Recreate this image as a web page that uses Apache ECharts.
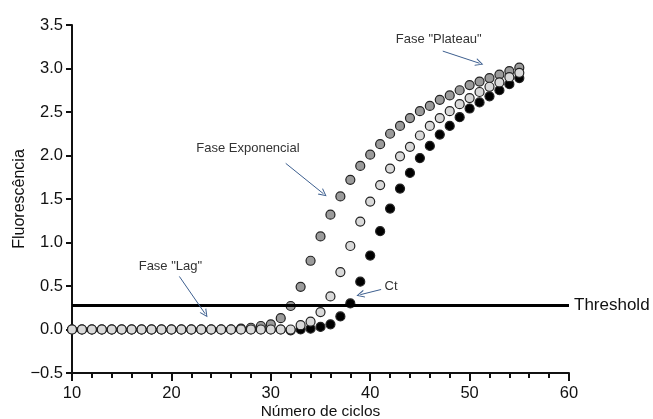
<!DOCTYPE html>
<html>
<head>
<meta charset="utf-8">
<script src="https://cdn.jsdelivr.net/npm/echarts@6/dist/echarts.min.js"></script>
<style>
  html, body { margin: 0; padding: 0; background: #fff; }
  #chart { width: 653px; height: 419px; }
</style>
</head>
<body>
<div id="chart"></div>
<script>
/* global echarts */
// ciclos de PCR
const cycles = [10, 11, 12, 13, 14, 15, 16, 17, 18, 19, 20, 21, 22, 23, 24, 25, 26, 27, 28, 29, 30, 31, 32,
    33, 34, 35, 36, 37, 38, 39, 40, 41, 42, 43, 44, 45, 46, 47, 48, 49, 50, 51, 52, 53, 54, 55];

// amostra mais concentrada (cinza escuro)
const sampleDark = [0, 0, 0, 0, 0, 0, 0, 0, 0, 0, 0, 0, 0, 0, 0, 0, 0, 0.01, 0.02, 0.04, 0.06, 0.13, 0.27,
    0.49, 0.79, 1.07, 1.32, 1.53, 1.72, 1.88, 2.01, 2.13, 2.25, 2.34, 2.43, 2.51, 2.57, 2.64, 2.69, 2.75,
    2.81, 2.85, 2.89, 2.93, 2.97, 3.01];

// amostra intermediaria (cinza claro)
const sampleLight = [0, 0, 0, 0, 0, 0, 0, 0, 0, 0, 0, 0, 0, 0, 0, 0, 0, 0, 0, 0, 0, 0, 0.0,
    0.05, 0.09, 0.2, 0.38, 0.66, 0.96, 1.24, 1.47, 1.66, 1.85, 1.99, 2.10, 2.23, 2.34, 2.43, 2.51, 2.59,
    2.66, 2.73, 2.79, 2.84, 2.90, 2.95];

// amostra menos concentrada (preto)
const sampleBlack = [0, 0, 0, 0, 0, 0, 0, 0, 0, 0, 0, 0, 0, 0, 0, 0, 0, 0, 0, 0, 0, 0, -0.01,
    0.0, 0.01, 0.03, 0.06, 0.15, 0.30, 0.55, 0.85, 1.13, 1.39, 1.62, 1.80, 1.97, 2.11, 2.24, 2.34, 2.44,
    2.54, 2.61, 2.68, 2.75, 2.82, 2.89];

const thresholdValue = 0.28;
const xTicks = [10, 20, 30, 40, 50, 60];
const yTicks = [-0.5, 0, 0.5, 1, 1.5, 2, 2.5, 3, 3.5];

const pairs = (values) => cycles.map((c, i) => [c, values[i]]);

const arrowBlue = '#3d5f8f';
const openArrow = 'path://M0,10 L5,0 L10,10 L8.6,10 L5,2.6 L1.4,10 Z';

const arrow = (from, to) => [
    { coord: from, symbol: 'none' },
    { coord: to, symbol: openArrow, symbolSize: [8, 8] }
];

const note = (text, at) => ({
    coord: at,
    symbol: 'circle',
    symbolSize: 1,
    itemStyle: { color: 'rgba(0,0,0,0)' },
    label: { show: true, formatter: text, position: 'inside', color: '#333', fontSize: 13, fontFamily: 'Liberation Sans, Arial' }
});

const dots = (name, values, fill, z) => ({
    name: name,
    type: 'scatter',
    data: pairs(values),
    symbol: 'circle',
    symbolSize: 9,
    z: z,
    itemStyle: { color: fill, borderColor: '#222', borderWidth: 1.2, opacity: 1 },
    emphasis: { disabled: true }
});

const chart = echarts.init(document.getElementById('chart'));

const option = {
    animation: false,
    textStyle: { fontFamily: 'Liberation Sans, Arial' },
    grid: { left: 72, right: 84, top: 25, bottom: 46, outerBoundsMode: 'none', containLabel: false },
    xAxis: {
        type: 'value',
        min: xTicks[0],
        max: xTicks[xTicks.length - 1],
        interval: 10,
        name: 'Número de ciclos',
        nameLocation: 'middle',
        nameGap: 31,
        nameMoveOverlap: false,
        nameTextStyle: { fontSize: 15.5, color: '#111' },
        axisLine: { onZero: false, lineStyle: { color: '#111', width: 2 } },
        axisTick: { length: 8, lineStyle: { width: 2, color: '#111' } },
        minorTick: { show: true, splitNumber: 5, length: 5, lineStyle: { width: 2, color: '#111' } },
        splitLine: { show: false },
        axisLabel: { fontSize: 16.5, color: '#111', margin: 12 }
    },
    yAxis: {
        type: 'value',
        min: yTicks[0],
        max: yTicks[yTicks.length - 1],
        interval: 0.5,
        name: 'Fluorescência',
        nameLocation: 'middle',
        nameGap: 44,
        nameMoveOverlap: false,
        nameTextStyle: { fontSize: 16, color: '#111' },
        axisLine: { show: true, onZero: false, lineStyle: { color: '#111', width: 2 } },
        axisTick: { show: true, length: 6, lineStyle: { width: 2, color: '#111' } },
        splitLine: { show: false },
        axisLabel: {
            fontSize: 16.5,
            color: '#111',
            margin: 9,
            formatter: (v) => (v < 0 ? '\u2212' + Math.abs(v).toFixed(1) : v.toFixed(1))
        }
    },
    series: [
        dots('C', sampleBlack, '#000000', 2),
        dots('A', sampleDark, '#9b9b9b', 3),
        dots('B', sampleLight, '#d9d9d9', 4),
        {
            name: 'anotacoes',
            type: 'line',
            data: [],
            z: 1,
            markLine: {
                silent: true,
                animation: false,
                symbol: 'none',
                data: [
                    [
                        { coord: [xTicks[0], thresholdValue] },
                        {
                            coord: [xTicks[xTicks.length - 1], thresholdValue],
                            lineStyle: { color: '#000', width: 3, type: 'solid' },
                            label: { show: true, position: 'end', formatter: 'Threshold', fontSize: 17, color: '#111', distance: 5 }
                        }
                    ]
                ],
                lineStyle: { color: '#000', width: 3, type: 'solid' },
                label: { show: false }
            }
        },
        {
            name: 'setas',
            type: 'line',
            data: [],
            z: 5,
            markLine: {
                silent: true,
                animation: false,
                symbol: 'none',
                lineStyle: { color: arrowBlue, width: 1, type: 'solid' },
                label: { show: false },
                data: [
                    arrow([31.5, 1.91], [35.3, 1.56]),
                    arrow([47.3, 3.20], [51.0, 3.06]),
                    arrow([20.8, 0.61], [23.4, 0.18]),
                    arrow([41.1, 0.46], [39.0, 0.40])
                ]
            },
            markPoint: {
                silent: true,
                animation: false,
                data: [
                    note('Fase Exponencial', [27.7, 2.08]),
                    note('Fase "Plateau"', [46.9, 3.33]),
                    note('Fase "Lag"', [19.9, 0.73]),
                    note('Ct', [42.1, 0.50])
                ]
            }
        }
    ]
};

chart.setOption(option);
</script>
</body>
</html>
